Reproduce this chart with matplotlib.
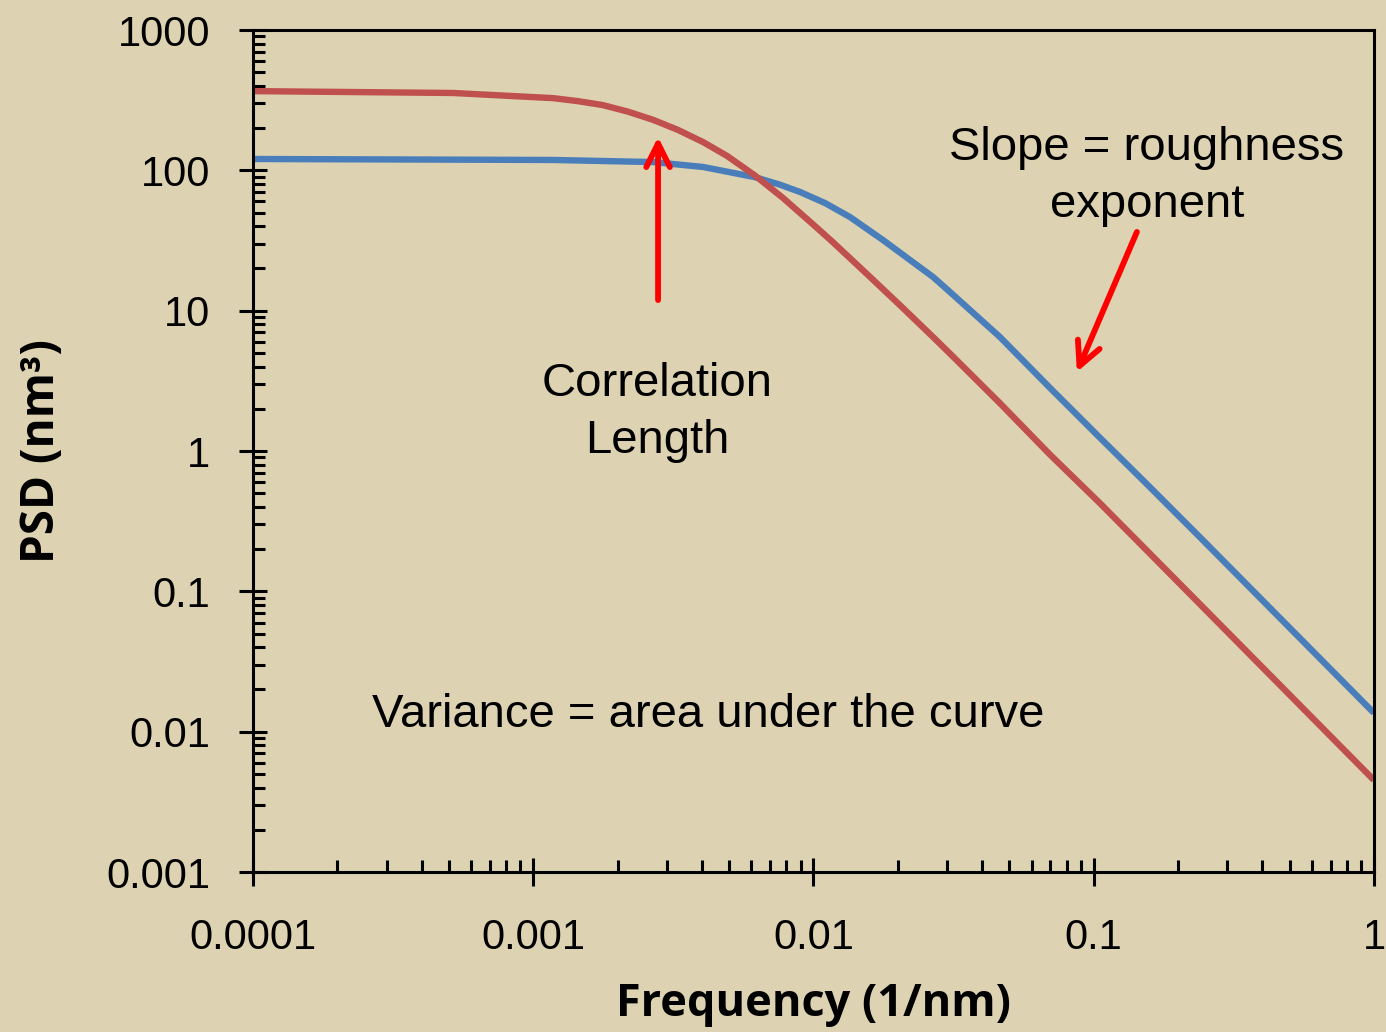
import matplotlib.pyplot as plt
import numpy as np

# values (log-log PSD curves)
red_freq = [1e-4, 5.18e-4, 1.18e-3, 1.45e-3, 1.77e-3, 2.18e-3, 2.68e-3,
            3.29e-3, 4.04e-3, 4.91e-3, 6.18e-3, 7.78e-3, 1.03e-2, 1.175e-2,
            1.55e-2, 2.04e-2, 2.67e-2, 3.07e-2, 4.63e-2, 6.98e-2, 0.105,
            0.155, 1.0]
red_psd = [367, 356, 327, 311, 292, 262, 229, 194, 159, 127, 92, 63.7,
           38.9, 30.7, 18.3, 10.9, 6.5, 4.95, 2.19, 0.944, 0.427, 0.195,
           0.00452]

blue_freq = [1e-4, 1.18e-3, 2.68e-3, 4.04e-3, 6.18e-3, 7.59e-3, 8.95e-3,
             1.10e-2, 1.35e-2, 1.77e-2, 2.67e-2, 3.07e-2, 4.63e-2, 6.98e-2,
             0.105, 0.159, 0.239, 1.0]
blue_psd = [120.5, 118.6, 114.6, 105.7, 89.5, 79.1, 70.2, 58.5, 46.5, 31.9,
            17.4, 13.6, 6.49, 2.82, 1.25, 0.551, 0.244, 0.0136]

x_ticks = [1e-4, 1e-3, 1e-2, 1e-1, 1]
x_labels = ["0.0001", "0.001", "0.01", "0.1", "1"]
y_ticks = [1e-3, 1e-2, 1e-1, 1, 10, 100, 1000]
y_labels = ["0.001", "0.01", "0.1", "1", "10", "100", "1000"]

bg = "#ddd3b2"
plt.rcParams['font.family'] = ['Liberation Sans', 'DejaVu Sans']
label_font = ["Open Sans", "DejaVu Sans"]

fig = plt.figure(figsize=(13.86, 10.32), dpi=100, facecolor=bg)
ax = fig.add_axes([0.1825, 0.155, 0.8088, 0.8159])
ax.set_facecolor(bg)

ax.plot(blue_freq, blue_psd, color="#4a7ebb", lw=4.6, solid_capstyle="butt",
        solid_joinstyle="round")
ax.plot(red_freq, red_psd, color="#c0504d", lw=4.6, solid_capstyle="butt",
        solid_joinstyle="round")

ax.set_xscale("log")
ax.set_yscale("log")
ax.set_xlim(1e-4, 1)
ax.set_ylim(1e-3, 1000)
ax.set_xticks(x_ticks)
ax.set_xticklabels(x_labels)
ax.set_yticks(y_ticks)
ax.set_yticklabels(y_labels)

for s in ax.spines.values():
    s.set_linewidth(2.2)
    s.set_color("black")

ax.tick_params(which="major", direction="inout", length=20, width=2.2,
               labelsize=30, colors="black")
ax.tick_params(axis="y", which="major", pad=21)
ax.tick_params(axis="x", which="major", pad=23)
ax.tick_params(which="minor", direction="in", length=8.5, width=2.2)
for lbl in ax.get_xticklabels() + ax.get_yticklabels():
    lbl.set_clip_on(False)

ax.set_xlabel("Frequency (1/nm)", fontsize=32.5, fontweight="bold",
              family=label_font)
ax.xaxis.set_label_coords(0.5, -0.131)
ax.set_ylabel("PSD (nm³)", fontsize=33, fontweight="bold",
              family=label_font)
ax.yaxis.set_label_coords(-0.168, 0.5)

ax.text(0.361, 0.546, "Correlation\nLength", transform=ax.transAxes,
        fontsize=34, ha="center", va="center", linespacing=1.38)
ax.text(0.7975, 0.826, "Slope = roughness\nexponent", transform=ax.transAxes,
        fontsize=34, ha="center", va="center", linespacing=1.38)
ax.text(0.406, 0.186, "Variance = area under the curve", transform=ax.transAxes,
        fontsize=34, ha="center", va="center")

arrow = dict(arrowstyle="->,head_length=1.7,head_width=0.85", color="#ff0000",
             lw=4.2, shrinkA=0, shrinkB=0)
ax.annotate("", xy=(2.79e-3, 173), xytext=(2.79e-3, 11.9), arrowprops=arrow)
ax.annotate("", xy=(0.0871, 3.66), xytext=(0.1426, 36.4), arrowprops=arrow)

plt.savefig("out.png", facecolor=bg)
